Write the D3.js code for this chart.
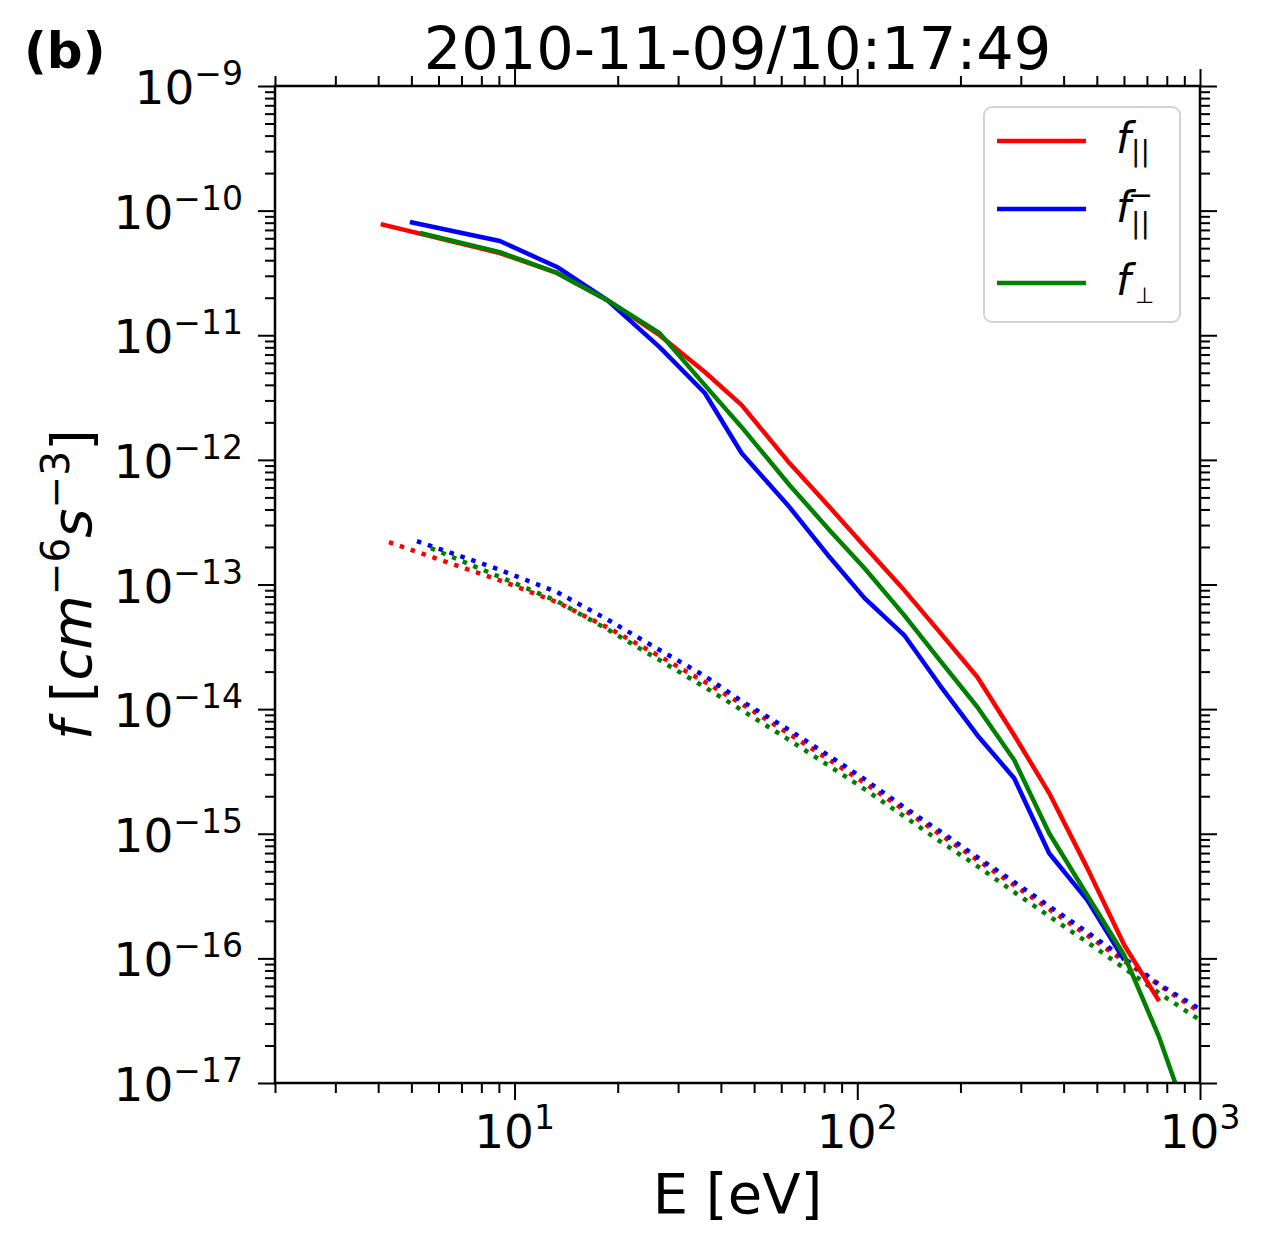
<!DOCTYPE html>
<html>
<head>
<meta charset="utf-8">
<script src="https://cdn.jsdelivr.net/npm/d3@7"></script>
<style>
  body { margin: 0; background: #fff; }
  text { font-family: "DejaVu Sans", sans-serif; fill: #000; }
</style>
</head>
<body>
<div id="chart"></div>
<script>
// margins and dimensions of the plot box
var margins = {"left": 275, "right": 75, "top": 86, "bottom": 155};
var dim = {
  "width": 1275 - margins.left - margins.right,
  "height": 1238 - margins.top - margins.bottom
};

var title = "2010-11-09/10:17:49";

// energy channels [eV]
var ePar  = [4.07, 9.06, 13.3, 18.6, 26.5, 35.9, 46.0, 63.4, 83.0, 105, 137, 174, 224, 287, 363, 469, 601, 760];
var eAnti = [4.95, 9.06, 13.3, 18.6, 26.5, 35.9, 46.0, 63.4, 83.0, 105, 137, 174, 224, 287, 363, 469, 601];
var ePerp = [5.3, 9.06, 13.3, 18.6, 26.5, 35.9, 46.0, 63.4, 83.0, 105, 137, 174, 224, 287, 363, 469, 601, 760, 1000];

// measured distribution f [cm^-6 s^-3]
var fPar  = [7.80e-11, 4.57e-11, 3.16e-11, 1.92e-11, 1.00e-11, 5.07e-12, 2.75e-12, 9.42e-13, 4.18e-13,
             2.03e-13, 9.02e-14, 4.15e-14, 1.81e-14, 6.18e-15, 2.12e-15, 5.30e-16, 1.28e-16, 4.54e-17];
var fAnti = [8.10e-11, 5.70e-11, 3.53e-11, 1.92e-11, 8.04e-12, 3.44e-12, 1.13e-12, 4.18e-13, 1.66e-13,
             7.78e-14, 3.93e-14, 1.56e-14, 6.18e-15, 2.79e-15, 6.98e-16, 2.93e-16, 9.68e-17];
var fPerp = [6.61e-11, 4.65e-11, 3.16e-11, 1.92e-11, 1.04e-11, 3.98e-12, 1.83e-12, 6.28e-13, 2.73e-13,
             1.35e-13, 5.68e-14, 2.47e-14, 1.04e-14, 3.90e-15, 1.01e-15, 3.21e-16, 1.06e-16, 2.33e-17, 2.73e-18];

// dotted reference levels (one for each direction)
var eParLvl  = [4.3, 9.06, 13.3, 18.6, 26.5, 35.9, 46.0, 63.4, 83.0, 105, 137, 174, 224, 287, 363, 469, 601, 760, 1000];
var eAntiLvl = [5.19, 9.06, 13.3, 18.6, 26.5, 35.9, 46.0, 63.4, 83.0, 105, 137, 174, 224, 287, 363, 469, 601, 760, 1000];
var ePerpLvl = [5.7, 9.06, 13.3, 18.6, 26.5, 35.9, 46.0, 63.4, 83.0, 105, 137, 174, 224, 287, 363, 469, 601, 760, 1000];
var fParLvl  = [2.19e-13, 1.08e-13, 7.22e-14, 4.55e-14, 2.66e-14, 1.65e-14, 1.10e-14, 6.30e-15, 3.90e-15, 2.55e-15,
                1.55e-15, 9.93e-16, 6.14e-16, 3.87e-16, 2.48e-16, 1.53e-16, 9.50e-17, 6.10e-17, 3.70e-17];
var fAntiLvl = [2.23e-13, 1.31e-13, 8.69e-14, 5.27e-14, 2.98e-14, 1.84e-14, 1.16e-14, 6.78e-15, 4.20e-15, 2.74e-15,
                1.63e-15, 1.05e-15, 6.49e-16, 4.09e-16, 2.62e-16, 1.62e-16, 1.00e-16, 6.18e-17, 3.91e-17];
var fPerpLvl = [1.96e-13, 1.15e-13, 7.36e-14, 4.39e-14, 2.47e-14, 1.50e-14, 9.82e-15, 5.64e-15, 3.49e-15, 2.28e-15,
                1.38e-15, 8.73e-16, 5.50e-16, 3.40e-16, 2.18e-16, 1.35e-16, 8.34e-17, 5.26e-17, 3.19e-17];

// axis ticks
var xMajor = [10, 100, 1000];
var xExp = [1, 2, 3];
var yMajor = [1e-17, 1e-16, 1e-15, 1e-14, 1e-13, 1e-12, 1e-11, 1e-10, 1e-9];
var yExp = [-17, -16, -15, -14, -13, -12, -11, -10, -9];

var colors = {"par": "#ff0000", "anti": "#0000ff", "perp": "#008000"};

window.onload = function() {

  var svg = d3.select("#chart")
    .append("svg")
    .attr("width", 1275)
    .attr("height", 1238);

  var g = svg.append("g")
    .attr("transform", "translate(" + margins.left + "," + margins.top + ")");

  var x = d3.scaleLog().domain([2, 1000]).range([0, dim.width]);
  var y = d3.scaleLog().domain([1e-17, 1e-9]).range([dim.height, 0]);

  // minor tick positions 2..9 of every decade
  var xMinor = [], yMinor = [];
  [1, 10, 100].forEach(function(d) {
    for (var k = 2; k < 10; k++) if (k * d >= 2 && k * d < 1000) xMinor.push(k * d);
  });
  yMajor.slice(0, -1).forEach(function(d) {
    for (var k = 2; k < 10; k++) yMinor.push(k * d);
  });

  svg.append("defs").append("clipPath")
    .attr("id", "clip")
    .append("rect")
    .attr("width", dim.width)
    .attr("height", dim.height);

  // ticks on all four sides, pointing outward
  function ticks(axis, values, size, transform) {
    var a = g.append("g")
      .attr("transform", transform)
      .call(axis.tickValues(values).tickSize(size).tickFormat(""));
    a.select(".domain").remove();
    a.selectAll("line").attr("stroke", "#000").attr("stroke-width", 2);
  }
  ticks(d3.axisBottom(x), xMajor, 17, "translate(0," + dim.height + ")");
  ticks(d3.axisBottom(x), xMinor, 10, "translate(0," + dim.height + ")");
  ticks(d3.axisTop(x), xMajor, 17, "translate(0,0)");
  ticks(d3.axisTop(x), xMinor, 10, "translate(0,0)");
  ticks(d3.axisLeft(y), yMajor, 17, "translate(0,0)");
  ticks(d3.axisLeft(y), yMinor, 10, "translate(0,0)");
  ticks(d3.axisRight(y), yMajor, 17, "translate(" + dim.width + ",0)");
  ticks(d3.axisRight(y), yMinor, 10, "translate(" + dim.width + ",0)");

  // tick labels 10^n
  function powerLabel(sel, exp) {
    sel.append("tspan").text("10");
    sel.append("tspan")
      .attr("dy", -19)
      .attr("font-size", 33)
      .text(String(exp).replace("-", "\u2212"));
  }

  xMajor.forEach(function(d, i) {
    g.append("text")
      .attr("x", x(d))
      .attr("y", dim.height + 65)
      .attr("font-size", 47)
      .attr("text-anchor", "middle")
      .call(powerLabel, xExp[i]);
  });

  yMajor.forEach(function(d, i) {
    g.append("text")
      .attr("x", -32)
      .attr("y", y(d) + 18)
      .attr("font-size", 47)
      .attr("text-anchor", "end")
      .call(powerLabel, yExp[i]);
  });

  // data lines
  var line = d3.line()
    .x(function(d) { return x(d[0]); })
    .y(function(d) { return y(d[1]); });

  var plot = g.append("g").attr("clip-path", "url(#clip)");

  var series = [
    {e: eParLvl,  f: fParLvl,  c: colors.par,  dotted: true},
    {e: eAntiLvl, f: fAntiLvl, c: colors.anti, dotted: true},
    {e: ePerpLvl, f: fPerpLvl, c: colors.perp, dotted: true},
    {e: ePar,  f: fPar,  c: colors.par,  dotted: false},
    {e: eAnti, f: fAnti, c: colors.anti, dotted: false},
    {e: ePerp, f: fPerp, c: colors.perp, dotted: false}
  ];

  series.forEach(function(s) {
    plot.append("path")
      .datum(d3.zip(s.e, s.f))
      .attr("d", line)
      .attr("fill", "none")
      .attr("stroke", s.c)
      .attr("stroke-width", 4.5)
      .attr("stroke-linejoin", "round")
      .attr("stroke-dasharray", s.dotted ? "4.5,7" : null);
  });

  // frame
  g.append("rect")
    .attr("width", dim.width)
    .attr("height", dim.height)
    .attr("fill", "none")
    .attr("stroke", "#000")
    .attr("stroke-width", 2.5);

  // legend
  var leg = svg.append("g");
  leg.append("rect")
    .attr("x", 984).attr("y", 107)
    .attr("width", 196).attr("height", 215)
    .attr("rx", 8)
    .attr("fill", "#fff")
    .attr("fill-opacity", 0.8)
    .attr("stroke", "#d3d3d3")
    .attr("stroke-width", 2);

  var legY = [141, 209, 283];
  var legColors = [colors.par, colors.anti, colors.perp];
  legColors.forEach(function(c, i) {
    leg.append("line")
      .attr("x1", 997).attr("x2", 1086)
      .attr("y1", legY[i]).attr("y2", legY[i])
      .attr("stroke", c)
      .attr("stroke-width", 4.5);
  });

  var t1 = leg.append("text").attr("x", 1116).attr("y", 153).attr("font-size", 42);
  t1.append("tspan").attr("font-style", "italic").text("f");
  t1.append("tspan").attr("x", 1131).attr("dy", 8).attr("font-size", 28).text("||");

  var t2 = leg.append("text").attr("x", 1116).attr("y", 222).attr("font-size", 42);
  t2.append("tspan").attr("font-style", "italic").text("f");
  t2.append("tspan").attr("x", 1128).attr("dy", -17).attr("font-size", 30).text("\u2212");
  t2.append("tspan").attr("x", 1131).attr("dy", 28).attr("font-size", 28).text("||");

  var t3 = leg.append("text").attr("x", 1116).attr("y", 295).attr("font-size", 42);
  t3.append("tspan").attr("font-style", "italic").text("f");
  t3.append("tspan").attr("x", 1135).attr("dy", 8).attr("font-size", 22).text("\u22a5");

  // title, panel label, axis labels
  svg.append("text")
    .attr("x", margins.left + dim.width / 2)
    .attr("y", 69)
    .attr("font-size", 59)
    .attr("text-anchor", "middle")
    .text(title);

  svg.append("text")
    .attr("x", 24)
    .attr("y", 68)
    .attr("font-size", 50)
    .attr("font-weight", "bold")
    .text("(b)");

  svg.append("text")
    .attr("x", margins.left + dim.width / 2)
    .attr("y", 1213)
    .attr("font-size", 56)
    .attr("text-anchor", "middle")
    .text("E [eV]");

  var yl = svg.append("text")
    .attr("transform", "translate(91," + (margins.top + dim.height / 2) + ") rotate(-90)")
    .attr("font-size", 56)
    .attr("text-anchor", "middle");
  yl.append("tspan").attr("font-style", "italic").text("f");
  yl.append("tspan").text(" [");
  yl.append("tspan").attr("font-style", "italic").text("cm");
  yl.append("tspan").attr("dy", -22).attr("font-size", 39).text("\u22126");
  yl.append("tspan").attr("dy", 22).attr("font-style", "italic").text("s");
  yl.append("tspan").attr("dy", -22).attr("font-size", 39).text("\u22123");
  yl.append("tspan").attr("dy", 22).text("]");
};
</script>
</body>
</html>
